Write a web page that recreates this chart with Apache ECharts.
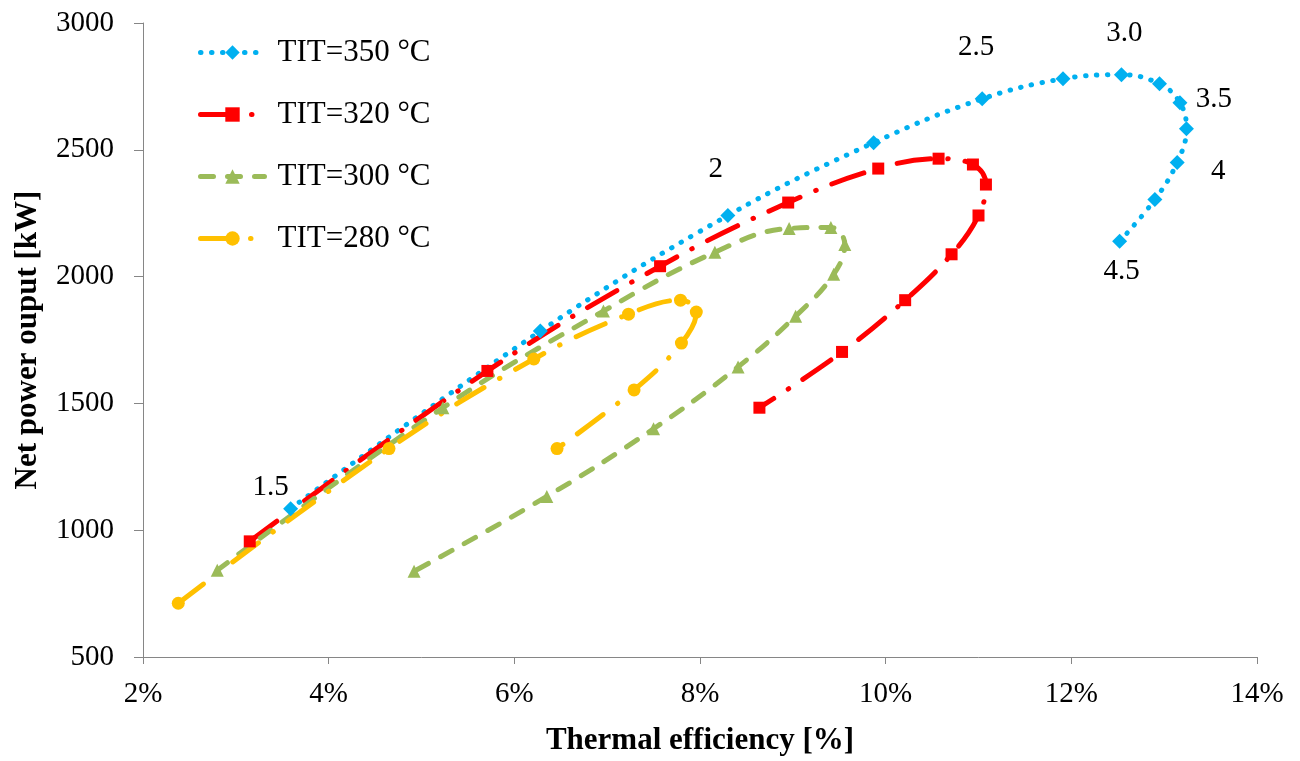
<!DOCTYPE html>
<html>
<head>
<meta charset="utf-8">
<script src="https://cdn.jsdelivr.net/npm/echarts@6/dist/echarts.min.js"></script>
<style>
  html, body { margin: 0; padding: 0; background: #fff; }
  #chart { width: 1300px; height: 761px; }
</style>
</head>
<body>
<div id="chart"></div>
<script>
// thermal efficiency [%], net power [kW] per pressure ratio step
const tit350 = [[3.59,1085],[6.28,1785],[8.30,2241],[9.87,2528],[11.04,2701],[11.91,2780],[12.54,2796],[12.95,2760],[13.17,2686],[13.24,2583],[13.14,2450],[12.90,2304],[12.52,2139]];
const tit320 = [[3.15,956],[5.71,1628],[7.57,2041],[8.95,2292],[9.92,2426],[10.57,2465],[10.94,2442],[11.08,2363],[11.00,2241],[10.71,2088],[10.21,1907],[9.53,1703],[8.64,1483]];
const tit300 = [[2.80,842],[5.23,1483],[6.96,1864],[8.16,2096],[8.96,2190],[9.41,2194],[9.56,2127],[9.44,2009],[9.03,1844],[8.41,1644],[7.50,1400],[6.35,1133],[4.92,838]];
const tit280 = [[2.38,712],[4.65,1322],[6.21,1675],[7.23,1852],[7.79,1907],[7.96,1860],[7.80,1738],[7.29,1553],[6.46,1322]];

const seriesNames = ['TIT=350 °C', 'TIT=320 °C', 'TIT=300 °C', 'TIT=280 °C'];
// pressure ratio labels on the 350 °C curve
const ratioLabels = ['1.5', '', '2', '', '2.5', '', '3.0', '', '3.5', '', '4', '', '4.5'];
const labelOffsets = [[-20,-21],null,[-12,-46],null,[-6,-51],null,[3,-41],null,[34,-3],null,[41,9],null,[2,30]];

const font = 'Liberation Serif';

const blueData = tit350.map((p, i) => {
  if (!ratioLabels[i]) return p;
  return {
    value: p,
    label: {
      show: true,
      formatter: ratioLabels[i],
      position: 'inside',
      offset: labelOffsets[i],
      color: '#000',
      fontFamily: font,
      fontSize: 29
    }
  };
});

const myChart = echarts.init(document.getElementById('chart'));
const option = {
  animation: false,
  backgroundColor: '#fff',
  grid: { left: 143, right: 43, top: 23, bottom: 102 },
  legend: {
    orient: 'vertical',
    left: 193,
    top: 32,
    itemWidth: 64,
    itemHeight: 18,
    itemGap: 31,
    lineStyle: { width: 5 },
    textStyle: { fontFamily: font, fontSize: 31, color: '#000', padding: [0, 0, 0, 8] },
    data: seriesNames
  },
  xAxis: {
    type: 'value',
    min: 2,
    max: 14,
    interval: 2,
    name: 'Thermal efficiency [%]',
    nameLocation: 'middle',
    nameGap: 68,
    nameTextStyle: { fontFamily: font, fontSize: 31, fontWeight: 'bold', color: '#000' },
    axisLine: { lineStyle: { color: '#868686', width: 1 } },
    axisTick: { show: true, length: 7, lineStyle: { color: '#868686' } },
    axisLabel: { formatter: '{value}%', fontFamily: font, fontSize: 29, color: '#000', margin: 23 },
    splitLine: { show: false }
  },
  yAxis: {
    type: 'value',
    min: 500,
    max: 3000,
    interval: 500,
    name: 'Net power ouput [kW]',
    nameLocation: 'middle',
    nameGap: 100,
    nameTextStyle: { fontFamily: font, fontSize: 31, fontWeight: 'bold', color: '#000' },
    axisLine: { show: true, lineStyle: { color: '#868686', width: 1 } },
    axisTick: { show: true, length: 9, lineStyle: { color: '#868686' } },
    axisLabel: { formatter: v => String(v), fontFamily: font, fontSize: 29, color: '#000', margin: 29 },
    splitLine: { show: false }
  },
  series: [
    {
      name: seriesNames[0],
      type: 'line',
      smooth: 0.4,
      data: blueData,
      symbol: 'diamond',
      symbolSize: 15,
      itemStyle: { color: '#00B0F0' },
      lineStyle: { color: '#00B0F0', width: 5, type: [0.5, 10.5], cap: 'round' }
    },
    {
      name: seriesNames[1],
      type: 'line',
      smooth: 0.4,
      data: tit320,
      symbol: 'rect',
      symbolSize: 12,
      itemStyle: { color: '#FF0000' },
      lineStyle: { color: '#FF0000', width: 5, type: [34, 17, 0.5, 17], cap: 'round' }
    },
    {
      name: seriesNames[2],
      type: 'line',
      smooth: 0.4,
      data: tit300,
      symbol: 'triangle',
      symbolSize: 13,
      itemStyle: { color: '#9BBB59' },
      lineStyle: { color: '#9BBB59', width: 5, type: [13, 14], cap: 'round' }
    },
    {
      name: seriesNames[3],
      type: 'line',
      smooth: 0.4,
      data: tit280,
      symbol: 'circle',
      symbolSize: 13,
      itemStyle: { color: '#FFC000' },
      lineStyle: { color: '#FFC000', width: 5, type: [32, 18, 0.5, 18], cap: 'round' }
    }
  ]
};
myChart.setOption(option);
</script>
</body>
</html>
